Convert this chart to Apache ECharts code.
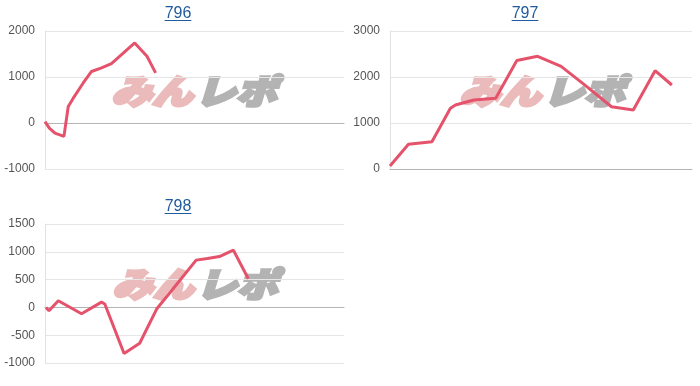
<!DOCTYPE html>
<html><head><meta charset="utf-8">
<script src="https://cdn.jsdelivr.net/npm/echarts@6/dist/echarts.min.js"></script>
<style>html,body{margin:0;padding:0;background:#fff}#c{width:700px;height:386px}</style>
</head><body><div id="c"></div>
<script>
// Machine numbers (panel titles)
const titles = ['796', '797', '798'];
// Games played (x) and coin difference (y) for each machine
const games796 = [0, 130, 300, 570, 700, 850, 1150, 1400, 1700, 2000, 2700, 3070, 3150, 3330];
const diff796  = [30, -110, -220, -290, 360, 540, 870, 1120, 1200, 1290, 1740, 1450, 1340, 1090];
const games797 = [0, 550, 1250, 1800, 1950, 2500, 3150, 3780, 4400, 5100, 5800, 6600, 7250, 7900, 8400];
const diff797  = [65, 537, 593, 1320, 1390, 1500, 1540, 2360, 2450, 2230, 1830, 1354, 1283, 2137, 1826];
const games798 = [30, 120, 400, 1100, 1700, 1800, 2380, 2850, 3360, 3850, 4550, 4890, 5250, 5670, 6120];
const diff798  = [0, -60, 120, -115, 95, 60, -830, -645, -30, 330, 850, 880, 915, 1030, 515];
// Y tick labels
const yTicks796 = [-1000, 0, 1000, 2000];
const yTicks797 = [0, 1000, 2000, 3000];
const yTicks798 = [-1000, -500, 0, 500, 1000, 1500];
const gamesMax = 9000;

const panels = [
  {games: games796, diff: diff796, ticks: yTicks796, grid: {left: 45, top: 31, width: 299, height: 138}, tx: 178, ty: 6, wm: [194, 91]},
  {games: games797, diff: diff797, ticks: yTicks797, grid: {left: 390, top: 31, width: 302, height: 138}, tx: 525, ty: 6, wm: [542, 91]},
  {games: games798, diff: diff798, ticks: yTicks798, grid: {left: 45, top: 224, width: 299, height: 139}, tx: 178, ty: 199, wm: [195, 284]}
];

const titleFont = '16px "Liberation Sans", Arial, sans-serif';
const ctx = document.createElement('canvas').getContext('2d');
ctx.font = titleFont;
const linkColor = '#1f5a9c';
const wmFont = 'italic 900 34px "Noto Sans CJK JP", sans-serif';

const option = {
  animation: false,
  title: [], grid: [], xAxis: [], yAxis: [], series: [], graphic: []
};

panels.forEach((p, i) => {
  const w = ctx.measureText(titles[i]).width;
  option.title.push({
    text: titles[i], left: p.tx - w / 2, top: p.ty, padding: 0,
    textStyle: {color: linkColor, fontSize: 16, fontWeight: 'normal', fontFamily: '"Liberation Sans", Arial, sans-serif'}
  });
  option.graphic.push({
    type: 'line', z: 10,
    shape: {x1: p.tx - w / 2, y1: p.ty + 14.5, x2: p.tx + w / 2, y2: p.ty + 14.5},
    style: {stroke: linkColor, lineWidth: 1}
  });
  // watermark
  option.graphic.push({
    type: 'group', x: p.wm[0], y: p.wm[1], scaleX: 1.2, z: 0, silent: true,
    children: [
      {type: 'text', x: -1, y: 0, style: {text: 'みん', fill: '#ebbaba', stroke: '#ebbaba', lineWidth: 3, font: wmFont, textAlign: 'right', textVerticalAlign: 'middle'}},
      {type: 'text', x: 1, y: 0, style: {text: 'レポ', fill: '#b3b3b3', stroke: '#b3b3b3', lineWidth: 3, font: wmFont, textAlign: 'left', textVerticalAlign: 'middle'}}
    ]
  });
  option.grid.push(p.grid);
  option.xAxis.push({
    type: 'value', gridIndex: i, min: 0, max: gamesMax,
    axisLabel: {show: false}, axisTick: {show: false}, splitLine: {show: false},
    axisLine: {show: true, onZero: true, lineStyle: {color: '#b5b5b5', width: 1}}
  });
  const t = p.ticks;
  option.yAxis.push({
    type: 'value', gridIndex: i, min: t[0], max: t[t.length - 1], interval: t[1] - t[0],
    axisLine: {show: true, lineStyle: {color: '#e2e2e2'}}, axisTick: {show: false},
    axisLabel: {color: '#555', fontSize: 12, margin: 10, fontFamily: '"Liberation Sans", Arial, sans-serif',
                formatter: v => String(v)},
    splitLine: {lineStyle: {color: '#e6e6e6'}}
  });
  option.series.push({
    type: 'line', xAxisIndex: i, yAxisIndex: i, z: 5,
    data: p.games.map((g, k) => [g, p.diff[k]]),
    showSymbol: false, symbol: 'none',
    lineStyle: {color: '#e5526b', width: 3}
  });
});

const chart = echarts.init(document.getElementById('c'), null, {renderer: 'canvas'});
chart.setOption(option);
</script>
</body></html>
